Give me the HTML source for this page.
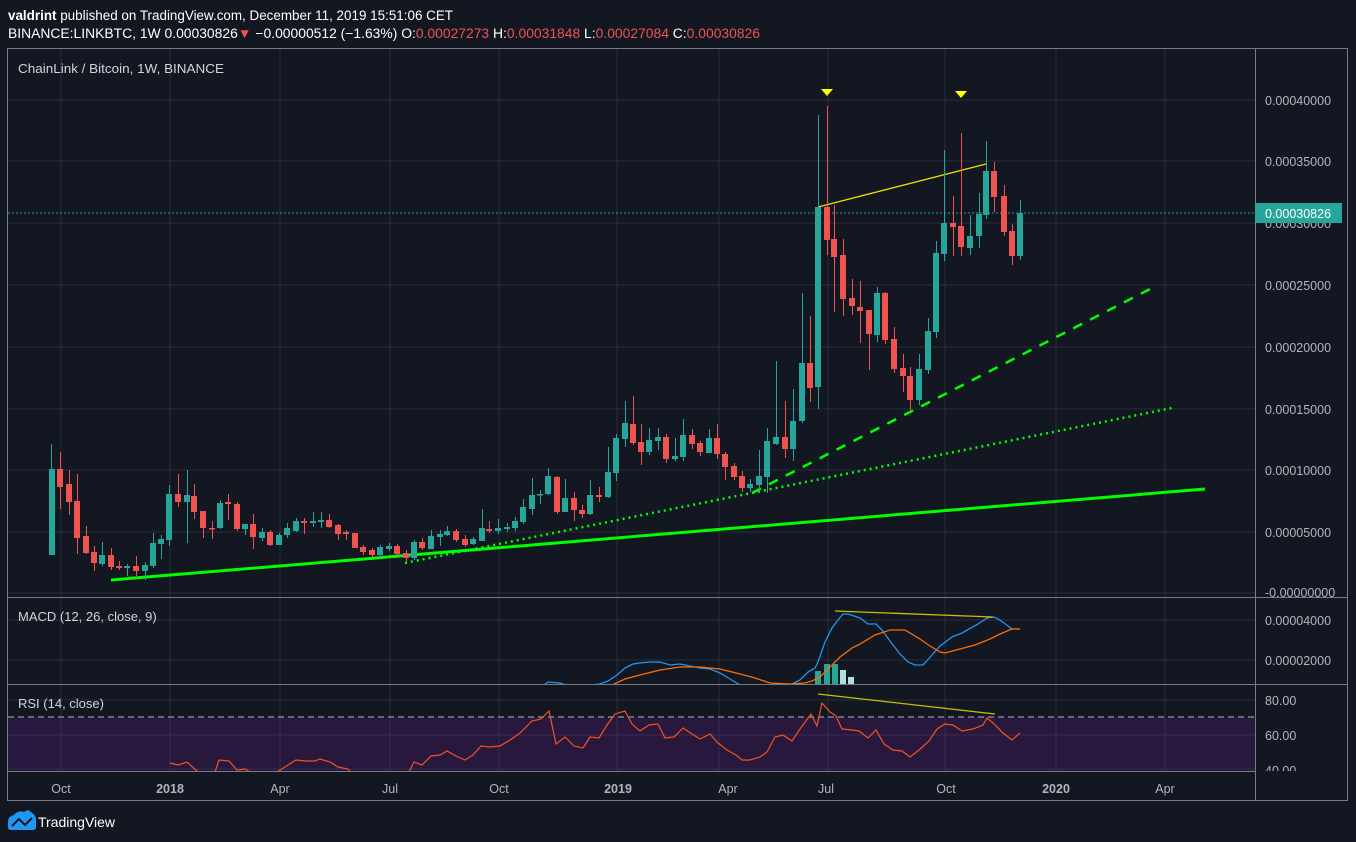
<!DOCTYPE html>
<html><head><meta charset="utf-8"><style>
html,body{margin:0;padding:0;background:#131722;}
svg{display:block;font-family:"Liberation Sans",sans-serif;}
.g{fill:#26a69a;stroke:#26a69a}.r{fill:#ef5350;stroke:#ef5350}
.wg{stroke:#26a69a;stroke-width:1}.wr{stroke:#ef5350;stroke-width:1}
.ax{fill:#b2b5be;font-size:12.5px}
.grid line{stroke:#2a2e39;stroke-width:1}
</style></head><body>
<svg width="1356" height="842" viewBox="0 0 1356 842" xmlns="http://www.w3.org/2000/svg">
<rect width="1356" height="842" fill="#131722"/>
<defs>
<clipPath id="cm"><rect x="8" y="49" width="1247" height="548"/></clipPath>
<clipPath id="cmacd"><rect x="8" y="598" width="1340" height="86"/></clipPath>
<clipPath id="crsi"><rect x="8" y="685" width="1340" height="86"/></clipPath>
</defs>
<!-- header -->
<text x="8" y="20" fill="#ffffff" font-size="13.5" textLength="445" lengthAdjust="spacingAndGlyphs"><tspan font-weight="bold">valdrint</tspan> published on TradingView.com, December 11, 2019 15:51:06 CET</text>
<text x="8" y="38" fill="#ffffff" font-size="13.5" textLength="752" lengthAdjust="spacingAndGlyphs">BINANCE:LINKBTC, 1W  0.00030826<tspan fill="#ef5350">▼</tspan> −0.00000512 (−1.63%) O:<tspan fill="#ef5350">0.00027273</tspan> H:<tspan fill="#ef5350">0.00031848</tspan> L:<tspan fill="#ef5350">0.00027084</tspan> C:<tspan fill="#ef5350">0.00030826</tspan></text>

<!-- grid -->
<g class="grid">
<line x1="8" y1="100" x2="1255" y2="100"/><line x1="8" y1="161" x2="1255" y2="161"/><line x1="8" y1="223" x2="1255" y2="223"/><line x1="8" y1="285" x2="1255" y2="285"/><line x1="8" y1="347" x2="1255" y2="347"/><line x1="8" y1="409" x2="1255" y2="409"/><line x1="8" y1="470" x2="1255" y2="470"/><line x1="8" y1="532" x2="1255" y2="532"/><line x1="8" y1="593" x2="1255" y2="593"/>
<line x1="8" y1="620" x2="1255" y2="620"/><line x1="8" y1="660" x2="1255" y2="660"/>
<line x1="8" y1="700" x2="1255" y2="700"/><line x1="8" y1="735" x2="1255" y2="735"/><line x1="8" y1="769" x2="1255" y2="769"/>
<line x1="61" y1="49" x2="61" y2="771"/><line x1="170" y1="49" x2="170" y2="771"/><line x1="280" y1="49" x2="280" y2="771"/><line x1="390" y1="49" x2="390" y2="771"/><line x1="499" y1="49" x2="499" y2="771"/><line x1="617" y1="49" x2="617" y2="771"/><line x1="719" y1="49" x2="719" y2="771"/><line x1="828" y1="49" x2="828" y2="771"/><line x1="945" y1="49" x2="945" y2="771"/><line x1="1056" y1="49" x2="1056" y2="771"/><line x1="1165" y1="49" x2="1165" y2="771"/>
</g>
<!-- RSI fill -->
<rect x="8" y="717" width="1247" height="54" fill="#7b1fa2" fill-opacity="0.22"/>
<line x1="8" y1="717" x2="1255" y2="717" stroke="#b2b5be" stroke-dasharray="6,4" stroke-width="1"/>

<!-- trend lines -->
<g clip-path="url(#cm)">
<line x1="111" y1="580" x2="1205" y2="489" stroke="#00ff00" stroke-width="3"/>
<line x1="405" y1="563" x2="1172" y2="408" stroke="#00ff00" stroke-width="2.5" stroke-dasharray="2,4"/>
<line x1="752" y1="493" x2="1152" y2="288" stroke="#00ff00" stroke-width="2.5" stroke-dasharray="10,9"/>
<line x1="818" y1="207" x2="986" y2="164" stroke="#f0e000" stroke-width="1.3"/>
<line x1="8" y1="213" x2="1255" y2="213" stroke="#26a69a" stroke-width="1" stroke-dasharray="2,2"/>
<polygon points="821,89 833,89 827,96" fill="#ffff00"/>
<polygon points="955,91 967,91 961,98" fill="#ffff00"/>
</g>

<!-- candles -->
<g clip-path="url(#cm)">
<g class="wg">
<line x1="51.5" y1="444" x2="51.5" y2="555"/><line x1="102.5" y1="542" x2="102.5" y2="566"/><line x1="127.5" y1="564" x2="127.5" y2="576"/><line x1="145.5" y1="562" x2="145.5" y2="580"/><line x1="153.5" y1="533" x2="153.5" y2="568"/><line x1="161.5" y1="535" x2="161.5" y2="559"/><line x1="169.5" y1="485" x2="169.5" y2="546"/><line x1="187.5" y1="470" x2="187.5" y2="543"/><line x1="220.5" y1="500" x2="220.5" y2="529"/><line x1="245.5" y1="524" x2="245.5" y2="535"/><line x1="262.5" y1="528" x2="262.5" y2="541"/><line x1="279.5" y1="533" x2="279.5" y2="545"/><line x1="287.5" y1="523" x2="287.5" y2="538"/><line x1="296.5" y1="518" x2="296.5" y2="532"/><line x1="313.5" y1="512" x2="313.5" y2="527"/><line x1="321.5" y1="512" x2="321.5" y2="528"/><line x1="380.5" y1="545" x2="380.5" y2="558"/><line x1="389.5" y1="543" x2="389.5" y2="551"/><line x1="414.5" y1="540" x2="414.5" y2="560"/><line x1="431.5" y1="530" x2="431.5" y2="549"/><line x1="440.5" y1="530" x2="440.5" y2="546"/><line x1="447.5" y1="526" x2="447.5" y2="536"/><line x1="473.5" y1="537" x2="473.5" y2="545"/><line x1="482.5" y1="509" x2="482.5" y2="541"/><line x1="498.5" y1="519" x2="498.5" y2="534"/><line x1="507.5" y1="523" x2="507.5" y2="532"/><line x1="515.5" y1="517" x2="515.5" y2="531"/><line x1="523.5" y1="499" x2="523.5" y2="524"/><line x1="532.5" y1="478" x2="532.5" y2="515"/><line x1="540.5" y1="490" x2="540.5" y2="504"/><line x1="548.5" y1="468" x2="548.5" y2="495"/><line x1="565.5" y1="479" x2="565.5" y2="512"/><line x1="590.5" y1="480" x2="590.5" y2="515"/><line x1="608.5" y1="447" x2="608.5" y2="498"/><line x1="616.5" y1="434" x2="616.5" y2="481"/><line x1="625.5" y1="401" x2="625.5" y2="447"/><line x1="649.5" y1="428" x2="649.5" y2="455"/><line x1="658.5" y1="428" x2="658.5" y2="450"/><line x1="675.5" y1="438" x2="675.5" y2="461"/><line x1="683.5" y1="419" x2="683.5" y2="461"/><line x1="709.5" y1="429" x2="709.5" y2="453"/><line x1="750.5" y1="479" x2="750.5" y2="492"/><line x1="759.5" y1="450" x2="759.5" y2="493"/><line x1="767.5" y1="428" x2="767.5" y2="493"/><line x1="776.5" y1="361" x2="776.5" y2="445"/><line x1="793.5" y1="389" x2="793.5" y2="461"/><line x1="802.5" y1="293" x2="802.5" y2="423"/><line x1="818.5" y1="115" x2="818.5" y2="409"/><line x1="877.5" y1="287" x2="877.5" y2="342"/><line x1="919.5" y1="354" x2="919.5" y2="405"/><line x1="928.5" y1="318" x2="928.5" y2="374"/><line x1="936.5" y1="241" x2="936.5" y2="338"/><line x1="944.5" y1="150" x2="944.5" y2="261"/><line x1="970.5" y1="215" x2="970.5" y2="255"/><line x1="979.5" y1="193" x2="979.5" y2="248"/><line x1="986.5" y1="141" x2="986.5" y2="219"/><line x1="1020.5" y1="200" x2="1020.5" y2="260"/>
</g>
<g class="wr">
<line x1="60.5" y1="452" x2="60.5" y2="509"/><line x1="69.5" y1="470" x2="69.5" y2="515"/><line x1="77.5" y1="474" x2="77.5" y2="554"/><line x1="86.5" y1="526" x2="86.5" y2="554"/><line x1="94.5" y1="546" x2="94.5" y2="571"/><line x1="111.5" y1="548" x2="111.5" y2="570"/><line x1="119.5" y1="561" x2="119.5" y2="570"/><line x1="136.5" y1="556" x2="136.5" y2="576"/><line x1="178.5" y1="474" x2="178.5" y2="507"/><line x1="194.5" y1="484" x2="194.5" y2="519"/><line x1="203.5" y1="511" x2="203.5" y2="538"/><line x1="212.5" y1="521" x2="212.5" y2="539"/><line x1="228.5" y1="494" x2="228.5" y2="520"/><line x1="237.5" y1="502" x2="237.5" y2="531"/><line x1="253.5" y1="514" x2="253.5" y2="549"/><line x1="270.5" y1="530" x2="270.5" y2="546"/><line x1="304.5" y1="518" x2="304.5" y2="534"/><line x1="329.5" y1="514" x2="329.5" y2="528"/><line x1="338.5" y1="524" x2="338.5" y2="540"/><line x1="346.5" y1="530" x2="346.5" y2="540"/><line x1="355.5" y1="533" x2="355.5" y2="548"/><line x1="363.5" y1="545" x2="363.5" y2="555"/><line x1="372.5" y1="548" x2="372.5" y2="558"/><line x1="397.5" y1="544" x2="397.5" y2="556"/><line x1="406.5" y1="550" x2="406.5" y2="562"/><line x1="422.5" y1="538" x2="422.5" y2="550"/><line x1="456.5" y1="529" x2="456.5" y2="542"/><line x1="465.5" y1="535" x2="465.5" y2="547"/><line x1="489.5" y1="521" x2="489.5" y2="533"/><line x1="557.5" y1="476" x2="557.5" y2="514"/><line x1="574.5" y1="492" x2="574.5" y2="521"/><line x1="582.5" y1="505" x2="582.5" y2="518"/><line x1="599.5" y1="487" x2="599.5" y2="502"/><line x1="633.5" y1="396" x2="633.5" y2="445"/><line x1="641.5" y1="424" x2="641.5" y2="465"/><line x1="666.5" y1="434" x2="666.5" y2="463"/><line x1="692.5" y1="429" x2="692.5" y2="449"/><line x1="700.5" y1="441" x2="700.5" y2="456"/><line x1="717.5" y1="424" x2="717.5" y2="459"/><line x1="725.5" y1="452" x2="725.5" y2="480"/><line x1="734.5" y1="463" x2="734.5" y2="480"/><line x1="742.5" y1="471" x2="742.5" y2="492"/><line x1="785.5" y1="401" x2="785.5" y2="458"/><line x1="810.5" y1="316" x2="810.5" y2="402"/><line x1="827.5" y1="106" x2="827.5" y2="255"/><line x1="834.5" y1="205" x2="834.5" y2="312"/><line x1="843.5" y1="239" x2="843.5" y2="316"/><line x1="852.5" y1="279" x2="852.5" y2="315"/><line x1="860.5" y1="281" x2="860.5" y2="343"/><line x1="869.5" y1="310" x2="869.5" y2="370"/><line x1="885.5" y1="292" x2="885.5" y2="344"/><line x1="894.5" y1="327" x2="894.5" y2="373"/><line x1="903.5" y1="354" x2="903.5" y2="392"/><line x1="910.5" y1="367" x2="910.5" y2="410"/><line x1="953.5" y1="196" x2="953.5" y2="256"/><line x1="961.5" y1="133" x2="961.5" y2="256"/><line x1="994.5" y1="162" x2="994.5" y2="212"/><line x1="1004.5" y1="185" x2="1004.5" y2="236"/><line x1="1012.5" y1="224" x2="1012.5" y2="265"/>
</g>
<g class="g" stroke-width="0">
<rect x="49" y="469" width="6" height="86"/><rect x="99" y="555" width="6" height="9"/><rect x="124" y="566" width="6" height="2"/><rect x="142" y="565" width="6" height="6"/><rect x="150" y="543" width="6" height="23"/><rect x="158" y="539" width="6" height="5"/><rect x="166" y="494" width="6" height="46"/><rect x="184" y="495" width="6" height="7"/><rect x="217" y="503" width="6" height="25"/><rect x="242" y="524" width="6" height="5"/><rect x="259" y="532" width="6" height="6"/><rect x="276" y="535" width="6" height="10"/><rect x="284" y="528" width="6" height="7"/><rect x="293" y="521" width="6" height="10"/><rect x="310" y="521" width="6" height="2"/><rect x="318" y="520" width="6" height="2"/><rect x="377" y="547" width="6" height="8"/><rect x="386" y="546" width="6" height="3"/><rect x="411" y="542" width="6" height="16"/><rect x="428" y="536" width="6" height="13"/><rect x="437" y="534" width="6" height="3"/><rect x="444" y="531" width="6" height="4"/><rect x="470" y="539" width="6" height="5"/><rect x="479" y="528" width="6" height="13"/><rect x="495" y="528" width="6" height="3"/><rect x="504" y="527" width="6" height="2"/><rect x="512" y="521" width="6" height="7"/><rect x="520" y="507" width="6" height="15"/><rect x="529" y="495" width="6" height="14"/><rect x="537" y="494" width="6" height="1.5"/><rect x="545" y="476" width="6" height="18"/><rect x="562" y="498" width="6" height="14"/><rect x="587" y="495" width="6" height="19"/><rect x="605" y="472" width="6" height="25"/><rect x="613" y="438" width="6" height="35"/><rect x="622" y="423" width="6" height="16"/><rect x="646" y="440" width="6" height="12"/><rect x="655" y="437" width="6" height="4"/><rect x="672" y="456" width="6" height="3"/><rect x="680" y="435" width="6" height="22"/><rect x="706" y="438" width="6" height="15"/><rect x="747" y="484" width="6" height="4"/><rect x="756" y="476" width="6" height="9"/><rect x="764" y="441" width="6" height="36"/><rect x="773" y="437" width="6" height="7"/><rect x="790" y="421" width="6" height="28"/><rect x="799" y="363" width="6" height="58"/><rect x="815" y="207" width="6" height="180"/><rect x="874" y="293" width="6" height="42"/><rect x="916" y="369" width="6" height="31"/><rect x="925" y="331" width="6" height="39"/><rect x="933" y="253" width="6" height="79"/><rect x="941" y="223" width="6" height="31"/><rect x="967" y="236" width="6" height="12"/><rect x="976" y="214" width="6" height="22"/><rect x="983" y="171" width="6" height="44"/><rect x="1017" y="213" width="6" height="43"/>
</g>
<g class="r" stroke-width="0">
<rect x="57" y="469" width="6" height="18"/><rect x="66" y="484" width="6" height="18"/><rect x="74" y="501" width="6" height="37"/><rect x="83" y="536" width="6" height="17"/><rect x="91" y="552" width="6" height="11"/><rect x="108" y="555" width="6" height="12"/><rect x="116" y="566" width="6" height="2"/><rect x="133" y="566" width="6" height="5"/><rect x="175" y="494" width="6" height="8"/><rect x="191" y="496" width="6" height="16"/><rect x="200" y="511" width="6" height="17"/><rect x="209" y="528" width="6" height="1.5"/><rect x="225" y="502" width="6" height="2"/><rect x="234" y="504" width="6" height="25"/><rect x="250" y="524" width="6" height="13"/><rect x="267" y="532" width="6" height="13"/><rect x="301" y="521" width="6" height="2"/><rect x="326" y="520" width="6" height="7"/><rect x="335" y="525" width="6" height="9"/><rect x="343" y="532" width="6" height="2"/><rect x="352" y="533" width="6" height="15"/><rect x="360" y="547" width="6" height="5"/><rect x="369" y="550" width="6" height="5"/><rect x="394" y="546" width="6" height="8"/><rect x="403" y="553" width="6" height="5"/><rect x="419" y="542" width="6" height="6"/><rect x="453" y="531" width="6" height="9"/><rect x="462" y="539" width="6" height="6"/><rect x="486" y="529" width="6" height="2"/><rect x="554" y="477" width="6" height="35"/><rect x="571" y="498" width="6" height="12"/><rect x="579" y="510" width="6" height="4"/><rect x="596" y="495" width="6" height="2"/><rect x="630" y="424" width="6" height="19"/><rect x="638" y="442" width="6" height="10"/><rect x="663" y="437" width="6" height="22"/><rect x="689" y="435" width="6" height="9"/><rect x="697" y="443" width="6" height="9"/><rect x="714" y="438" width="6" height="16"/><rect x="722" y="454" width="6" height="13"/><rect x="731" y="466" width="6" height="11"/><rect x="739" y="476" width="6" height="12"/><rect x="782" y="437" width="6" height="12"/><rect x="807" y="363" width="6" height="25"/><rect x="824" y="207" width="6" height="33"/><rect x="831" y="239" width="6" height="18"/><rect x="840" y="255" width="6" height="44"/><rect x="849" y="298" width="6" height="8"/><rect x="857" y="307" width="6" height="4"/><rect x="866" y="310" width="6" height="24"/><rect x="882" y="293" width="6" height="47"/><rect x="891" y="339" width="6" height="30"/><rect x="900" y="368" width="6" height="8"/><rect x="907" y="376" width="6" height="24"/><rect x="950" y="223" width="6" height="4"/><rect x="958" y="226" width="6" height="21"/><rect x="991" y="171" width="6" height="26"/><rect x="1001" y="196" width="6" height="36"/><rect x="1009" y="231" width="6" height="25"/>
</g>
</g>

<!-- MACD -->
<g clip-path="url(#cmacd)">
<rect x="815" y="671" width="6" height="13" fill="#26a69a"/><rect x="824" y="664" width="6" height="20" fill="#26a69a"/><rect x="832" y="664" width="6" height="20" fill="#26a69a"/><rect x="840" y="670" width="6" height="14" fill="#b2dfdb"/><rect x="848" y="677" width="6" height="7" fill="#b2dfdb"/>
<polyline fill="none" stroke="#2196f3" stroke-width="1.3" points="545,684 548,682 560,683 566,685"/>
<polyline fill="none" stroke="#2196f3" stroke-width="1.3" points="590,685 600,684 608,681 617,675 625,668 633,664 640,663 650,662 660,662 670,665 680,664 690,666 700,668 710,669 720,673 730,679 740,685"/>
<polyline fill="none" stroke="#2196f3" stroke-width="1.3" points="790,685 800,680 808,672 815,668 818,662 825,642 832,628 838,620 843,614 848,614 860,618 868,624 876,624 882,630 890,641 900,654 908,662 915,665 923,665 932,655 940,646 952,637 962,633 978,624 987,618 994,617 1000,620 1012,629 1020,629"/>
<polyline fill="none" stroke="#ff6d00" stroke-width="1.3" points="612,685 625,679 640,675 660,670 680,667 700,667 720,669 740,674 755,678 770,683 790,684 805,683 812,681 820,677 830,667 840,657 852,648 860,644 875,635 890,630 905,630 920,639 930,646 940,652 945,653 960,649 975,645 990,639 1000,634 1012,629 1020,629"/>
<line x1="835" y1="611" x2="993" y2="617" stroke="#c8c000" stroke-width="1.3"/>
</g>
<text x="18" y="621" fill="#d1d4dc" font-size="13">MACD (12, 26, close, 9)</text>

<!-- RSI -->
<g clip-path="url(#crsi)">
<polyline fill="none" stroke="#f4511e" stroke-width="1.2" points="170,763 178,765 187,762 198,772"/>
<polyline fill="none" stroke="#f4511e" stroke-width="1.2" points="215,772 219,760 229,761 237,770 245,769 250,772"/>
<polyline fill="none" stroke="#f4511e" stroke-width="1.2" points="277,772 288,765 296,760 305,761 315,761 320,759 330,762 338,767 348,769 350,772"/>
<polyline fill="none" stroke="#f4511e" stroke-width="1.2" points="409,772 414,762 422,765 431,756 440,755 447,751 456,756 465,760 473,755 481,746 490,747 500,746 510,740 520,733 532,721 541,719 549,711 556,744 565,737 574,746 583,748 590,737 599,738 607,725 615,714 625,711 632,724 640,731 649,725 658,724 665,738 674,737 683,728 692,734 700,739 710,734 718,743 727,750 736,755 742,760 750,760 760,757 767,752 775,737 783,735 792,741 800,729 811,714 817,726 822,703 830,712 836,716 842,729 852,730 859,731 868,738 876,730 884,744 893,750 902,751 910,757 919,750 929,741 937,729 945,724 953,725 962,731 973,729 983,725 987,718 993,723 1003,733 1012,740 1020,733"/>
<line x1="818" y1="694" x2="995" y2="714" stroke="#c8c000" stroke-width="1.3"/>
</g>
<text x="18" y="708" fill="#d1d4dc" font-size="13">RSI (14, close)</text>

<!-- frames -->
<g stroke="#787b86" stroke-width="1" fill="none">
<rect x="7.5" y="48.5" width="1340" height="752"/>
<line x1="7" y1="597.5" x2="1348" y2="597.5"/>
<line x1="7" y1="684.5" x2="1348" y2="684.5"/>
<line x1="7" y1="771.5" x2="1255" y2="771.5"/>
<line x1="1255.5" y1="48" x2="1255.5" y2="801"/>
</g>
<text x="18" y="73" fill="#d1d4dc" font-size="13" textLength="206" lengthAdjust="spacingAndGlyphs">ChainLink / Bitcoin, 1W, BINANCE</text>

<!-- price axis -->
<g class="ax">
<text x="1265" y="105">0.00040000</text><text x="1265" y="166">0.00035000</text><text x="1265" y="228">0.00030000</text><text x="1265" y="290">0.00025000</text><text x="1265" y="352">0.00020000</text><text x="1265" y="414">0.00015000</text><text x="1265" y="475">0.00010000</text><text x="1265" y="537">0.00005000</text><text x="1265" y="597">-0.00000000</text>
<text x="1265" y="625">0.00004000</text><text x="1265" y="665">0.00002000</text>
<text x="1265" y="705">80.00</text><text x="1265" y="740">60.00</text>
</g>
<g clip-path="url(#crsi)"><text x="1265" y="775" class="ax">40.00</text></g>
<rect x="1255" y="203" width="87" height="20" fill="#26a69a"/>
<text x="1265" y="218" fill="#ffffff" font-size="12.5">0.00030826</text>

<!-- time axis -->
<g class="ax" text-anchor="middle">
<text x="61" y="793">Oct</text><text x="170" y="793" font-weight="bold">2018</text><text x="280" y="793">Apr</text><text x="390" y="793">Jul</text><text x="499" y="793">Oct</text><text x="618" y="793" font-weight="bold">2019</text><text x="728" y="793">Apr</text><text x="826" y="793">Jul</text><text x="946" y="793">Oct</text><text x="1056" y="793" font-weight="bold">2020</text><text x="1165" y="793">Apr</text>
</g>

<!-- footer logo -->
<path d="M8,827 L8,822 Q8,816 14,815 Q18,810 24,812 Q28,808 32,813 Q36,815 36,820 L36,827 Q36,830 33,830 L11,830 Q8,830 8,827 Z" fill="#2196f3"/>
<polyline points="12,826 19,819 25,825 32,818" fill="none" stroke="#131722" stroke-width="2"/>
<text x="38" y="827" fill="#ffffff" font-size="14">TradingView</text>
</svg>
</body></html>
